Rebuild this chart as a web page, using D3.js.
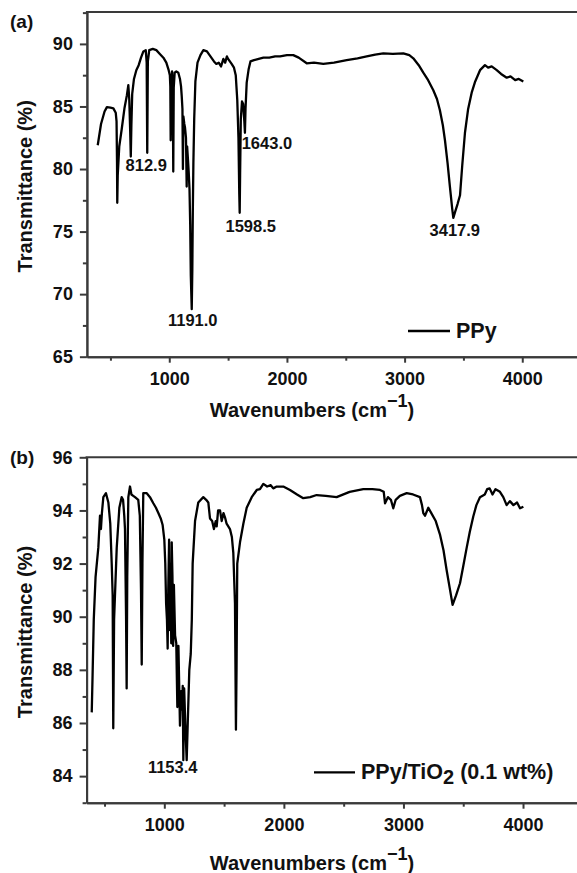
<!DOCTYPE html>
<html>
  <head>
    <meta charset="utf-8">
    <style>
      body { margin:0; background:#fff; }
      text { font-family:"Liberation Sans", Arial, Helvetica, sans-serif; font-weight:bold; fill:#111; }
      .axis path, .axis line { stroke:#3a3a3a; stroke-width:2px; }
      .axis text { font-size:18px; font-family:"Liberation Sans", Arial, sans-serif; font-weight:bold; fill:#111; }
      .frame { stroke:#3a3a3a; stroke-width:2px; }
      .spectrum { fill:none; stroke:#000; stroke-width:2.3px; stroke-linejoin:round; }
      .peak { font-size:16.5px; text-anchor:middle; }
      .title { font-size:20px; }
      .legend { font-size:21.5px; }
      .tag { font-size:19px; }
    </style>
    <script src="https://d3js.org/d3.v7.min.js"></script>
  </head>
  <body>
    <script>
      // ---- data: [wavenumber, transmittance] ----
      const ppy = [
        [392,81.9],[420,83.6],[450,84.6],[470,84.95],[500,84.9],[525,84.85],[545,84.5],[552,83.8],
        [556,80.5],[558,77.3],[562,79.5],[575,81.8],[596,83.2],[620,84.9],[640,85.9],[652,86.7],
        [660,85.6],[668,83.0],[673,81.0],[678,83.5],[685,86.0],[700,87.2],[720,87.9],[740,88.3],
        [760,88.9],[780,89.4],[800,89.5],[808,88.5],[812.9,81.3],[818,88.6],[830,89.5],[860,89.6],
        [890,89.5],[920,89.2],[950,88.9],[975,88.5],[995,87.9],[1005,87.5],[1009,86.6],[1012,82.3],
        [1016,86.5],[1024,87.8],[1030,86.0],[1034,79.8],[1038,86.5],[1046,87.7],[1060,87.8],[1077,87.7],
        [1091,87.2],[1100,86.6],[1106,85.8],[1112,84.8],[1116,80.0],[1120,84.2],[1128,83.6],[1134,83.3],
        [1142,82.5],[1148,78.6],[1152,81.8],[1160,80.6],[1165,79.8],[1172,78.4],[1178,75.5],[1183,71.5],
        [1191,68.8],[1196,72.0],[1200,76.5],[1205,80.5],[1212,84.0],[1222,87.0],[1240,88.5],[1265,89.1],
        [1290,89.5],[1320,89.4],[1350,89.0],[1380,88.6],[1400,88.4],[1420,88.5],[1440,88.2],[1460,88.8],
        [1475,88.5],[1490,89.0],[1500,88.8],[1515,88.6],[1530,88.4],[1550,88.1],[1565,87.5],[1578,85.5],
        [1588,82.5],[1595,78.0],[1598.5,76.5],[1602,79.5],[1608,84.0],[1618,85.4],[1628,85.2],[1638,83.8],
        [1643,82.9],[1648,84.8],[1658,86.9],[1675,88.0],[1690,88.6],[1720,88.7],[1760,88.8],[1800,88.9],
        [1850,88.9],[1900,89.0],[1942,89.0],[2000,89.1],[2054,89.1],[2100,88.9],[2168,88.45],[2230,88.5],
        [2309,88.4],[2400,88.5],[2508,88.7],[2600,88.85],[2678,89.0],[2750,89.15],[2819,89.25],[2900,89.2],
        [2989,89.25],[3040,89.1],[3074,88.85],[3120,88.3],[3159,87.7],[3200,87.1],[3244,86.3],[3275,85.6],
        [3300,84.7],[3325,83.5],[3343,82.3],[3365,80.5],[3385,78.6],[3405,76.8],[3414,76.1],[3430,76.6],
        [3450,77.2],[3471,77.9],[3490,80.3],[3513,82.9],[3540,84.8],[3570,86.1],[3600,87.0],[3641,87.9],
        [3683,88.3],[3710,88.1],[3740,88.2],[3783,87.9],[3820,87.6],[3868,87.3],[3900,87.4],[3940,87.1],
        [3970,87.2],[4009,87.0]
      ]

      const ppyTiO2 = [
        [393,86.4],[400,87.8],[410,89.9],[425,91.5],[448,92.6],[462,93.8],[470,93.3],[478,93.9],
        [490,94.5],[512,94.65],[532,94.3],[548,93.5],[560,92.0],[568,90.8],[573,85.8],[580,89.9],
        [602,92.6],[624,94.1],[643,94.5],[655,94.4],[665,93.8],[671,93.3],[680,90.0],[685,87.3],
        [690,91.5],[699,94.5],[713,94.9],[725,94.6],[740,94.55],[755,94.5],[782,94.4],[795,93.8],
        [805,91.0],[811,88.2],[817,92.0],[824,94.65],[853,94.65],[880,94.5],[908,94.27],[930,94.1],
        [950,93.9],[970,93.7],[986,93.45],[1000,92.9],[1008,92.0],[1015,90.5],[1022,89.9],[1028,88.8],
        [1033,91.0],[1040,92.9],[1046,89.5],[1052,92.0],[1058,89.0],[1062,92.8],[1068,91.5],[1074,88.9],
        [1080,91.2],[1090,89.3],[1100,89.0],[1109,86.6],[1118,88.9],[1131,85.9],[1140,87.2],[1148,86.5],
        [1154,87.4],[1159,84.6],[1166,87.3],[1175,86.0],[1187,84.6],[1196,86.0],[1209,88.0],[1221,88.6],
        [1230,89.9],[1237,92.0],[1257,93.6],[1284,94.3],[1326,94.5],[1350,94.4],[1368,94.3],[1382,93.7],
        [1400,93.6],[1415,93.3],[1430,93.6],[1438,93.4],[1450,94.0],[1466,94.0],[1480,93.6],[1495,93.9],
        [1510,93.7],[1521,93.5],[1549,93.3],[1565,93.0],[1577,92.4],[1591,90.5],[1599,85.75],[1604,88.0],
        [1610,92.0],[1633,92.8],[1661,93.5],[1689,94.1],[1731,94.5],[1773,94.77],[1800,94.8],[1828,95.0],
        [1860,94.9],[1890,94.95],[1911,94.83],[1940,94.9],[1967,94.9],[1995,94.9],[2051,94.77],[2110,94.6],
        [2162,94.46],[2220,94.5],[2274,94.58],[2350,94.55],[2441,94.5],[2550,94.7],[2664,94.8],[2740,94.8],
        [2804,94.77],[2835,94.7],[2846,94.27],[2870,94.5],[2895,94.4],[2915,94.08],[2935,94.4],[2970,94.55],
        [3027,94.65],[3080,94.6],[3138,94.5],[3155,94.2],[3166,93.9],[3180,93.8],[3208,94.1],[3233,93.9],
        [3270,93.6],[3305,93.1],[3335,92.5],[3361,91.76],[3390,91.0],[3411,90.45],[3440,90.8],[3473,91.26],
        [3500,91.9],[3529,92.6],[3555,93.2],[3584,93.77],[3610,94.2],[3640,94.5],[3680,94.6],[3700,94.8],
        [3721,94.83],[3745,94.6],[3770,94.8],[3807,94.7],[3835,94.5],[3863,94.2],[3890,94.35],[3920,94.2],
        [3950,94.3],[3975,94.08],[4003,94.14]
      ]

      // peak labels: [text, wavenumber, transmittance at label]
      const peaksA = [['812.9',812.9,81.3],['1191.0',1191.0,68.8],['1598.5',1598.5,76.5],['1643.0',1643.0,82.9],['3417.9',3417.9,76.1]]
      const peaksB = [['1153.4',1153.4,84.6]]

      const xTicks = [1000,2000,3000,4000]
      const xMinor = [500,1500,2500,3500]
      const yTicksA = [65,70,75,80,85,90]
      const yMinorA = [67.5,72.5,77.5,82.5,87.5,92.5]
      const yTicksB = [84,86,88,90,92,94,96]
      const yMinorB = [83,85,87,89,91,93,95]

      const svg = d3.select('body').append('svg').attr('width',577).attr('height',873)

      function panel(o){
        const x = d3.scaleLinear().domain(o.xDomain).range(o.xRange)
        const y = d3.scaleLinear().domain(o.yDomain).range(o.yRange)
        const g = svg.append('g')
        const bottom = o.yRange[0], top = o.yRange[1]

        // axes
        g.append('g').attr('class','axis').attr('transform',`translate(0,${bottom})`)
          .call(d3.axisBottom(x).tickValues(xMinor).tickSize(4).tickSizeOuter(0).tickFormat(''))
        g.append('g').attr('class','axis').attr('transform',`translate(0,${bottom})`)
          .call(d3.axisBottom(x).tickValues(xTicks).tickSize(6).tickSizeOuter(0).tickPadding(o.xPad).tickFormat(d3.format('d')))
        g.append('g').attr('class','axis').attr('transform',`translate(${o.xRange[0]},0)`)
          .call(d3.axisLeft(y).tickValues(o.yMinor).tickSize(4).tickSizeOuter(0).tickFormat(''))
        g.append('g').attr('class','axis').attr('transform',`translate(${o.xRange[0]},0)`)
          .call(d3.axisLeft(y).tickValues(o.yTicks).tickSize(7).tickSizeOuter(0).tickPadding(7).tickFormat(d3.format('d')))
        g.append('line').attr('class','frame')
          .attr('x1',o.xRange[0]-1).attr('x2',577).attr('y1',top).attr('y2',top)

        // spectrum
        g.append('path').datum(o.data).attr('class','spectrum')
          .attr('d',d3.line().x(d => x(d[0])).y(d => y(d[1])))

        // peak labels
        g.selectAll('.peak').data(o.peaks).join('text').attr('class','peak')
          .attr('x',d => x(d[1]) + (o.peakDx[d[0]]||0))
          .attr('y',d => y(d[2]) + (o.peakDy[d[0]]||17))
          .text(d => d[0])

        // titles
        g.append('text').attr('class','title')
          .attr('transform',`translate(32,${(top+bottom)/2+2}) rotate(-90)`)
          .attr('text-anchor','middle').text('Transmittance (%)')
        const xt = g.append('text').attr('class','title')
          .attr('x',312).attr('y',o.xTitleY).attr('text-anchor','middle')
        xt.append('tspan').text('Wavenumbers (cm')
        xt.append('tspan').attr('dy',-10).attr('font-size',18).text('\u22121')
        xt.append('tspan').attr('dy',10).text(')')

        g.append('text').attr('class','tag').attr('x',10).attr('y',o.tagY).text(o.tag)

        // legend
        g.append('line').attr('x1',o.legX1).attr('x2',o.legX2).attr('y1',o.legY).attr('y2',o.legY)
          .attr('stroke','#000').attr('stroke-width',2.3)
        const lt = g.append('text').attr('class','legend').attr('x',o.legX2+6).attr('y',o.legY+7)
        o.legend.forEach(p => {
          const t = lt.append('tspan').text(p.t)
          if(p.sub){ t.attr('dy',5).attr('font-size',20) }
          if(p.back){ t.attr('dy',-5) }
        })
      }

      panel({
        data:ppy, peaks:peaksA,
        xDomain:[300,4500], xRange:[86.9,581.1],
        yDomain:[65,92.55], yRange:[356.7,12],
        yTicks:yTicksA, yMinor:yMinorA, xPad:10, xTitleY:417,
        peakDx:{'1598.5':11,'1643.0':22,'3417.9':1,'812.9':-1,'1191.0':1},
        peakDy:{'812.9':18,'1191.0':17,'1598.5':19,'1643.0':16,'3417.9':18},
        tag:'(a)', tagY:28,
        legX1:408, legX2:450, legY:331,
        legend:[{t:'PPy'}]
      })

      panel({
        data:ppyTiO2, peaks:peaksB,
        xDomain:[350,4500], xRange:[86.6,582.8],
        yDomain:[83,96], yRange:[802.7,457.3],
        yTicks:yTicksB, yMinor:yMinorB, xPad:9.5, xTitleY:870,
        peakDx:{'1153.4':-10}, peakDy:{'1153.4':13},
        tag:'(b)', tagY:464,
        legX1:314, legX2:355, legY:772.3,
        legend:[{t:'PPy/TiO'},{t:'2',sub:true},{t:' (0.1 wt%)',back:true}]
      })
    </script>
  </body>
</html>
